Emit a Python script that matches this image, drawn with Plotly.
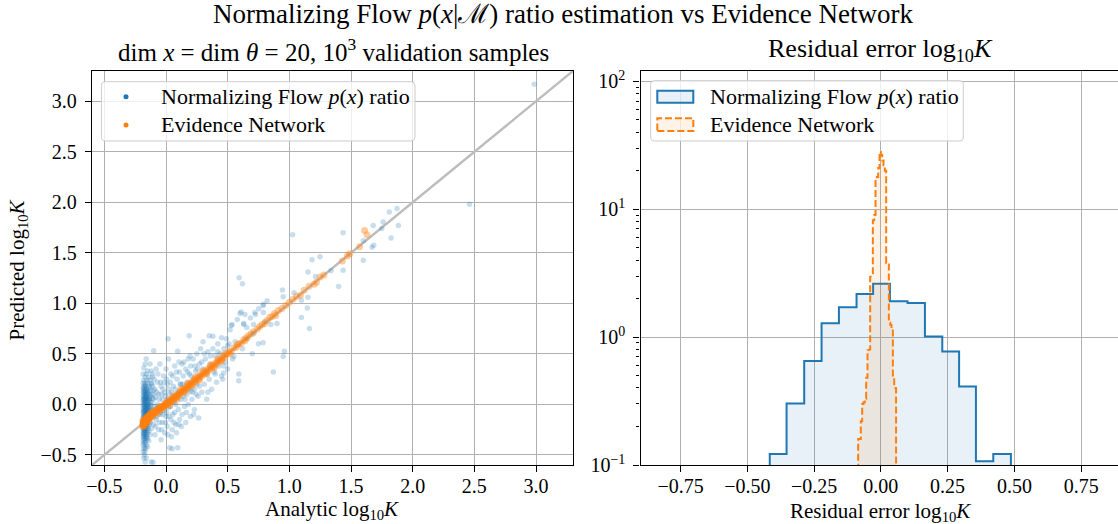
import plotly.graph_objects as go

# ---------------- data ----------------
axis_limits = [-0.6, 3.3]

# Normalizing-flow ratio: analytic vs predicted log10 K
nf_band = [
    (-0.16, 0.45), (-0.17, 0.40), (-0.13, 0.40), (-0.18, 0.36), (-0.15, 0.33), (-0.12, 0.33),
    (-0.185, 0.30), (-0.16, 0.30), (-0.17, 0.27), (-0.14, 0.27), (-0.11, 0.27),
    (-0.18, 0.24), (-0.155, 0.24), (-0.13, 0.24), (-0.185, 0.21), (-0.17, 0.21), (-0.15, 0.21),
    (-0.12, 0.21), (-0.18, 0.18), (-0.165, 0.18), (-0.14, 0.18), (-0.11, 0.18),
    (-0.185, 0.16), (-0.175, 0.16), (-0.16, 0.16), (-0.135, 0.16),
    (-0.18, 0.14), (-0.17, 0.14), (-0.15, 0.14), (-0.125, 0.14), (-0.10, 0.14),
    (-0.185, 0.12), (-0.175, 0.12), (-0.165, 0.12), (-0.145, 0.12),
    (-0.18, 0.10), (-0.17, 0.10), (-0.16, 0.10), (-0.14, 0.10), (-0.12, 0.10),
    (-0.185, 0.08), (-0.175, 0.08), (-0.165, 0.08), (-0.155, 0.08), (-0.13, 0.08),
    (-0.18, 0.06), (-0.17, 0.06), (-0.16, 0.06), (-0.15, 0.06), (-0.135, 0.06), (-0.11, 0.06),
    (-0.185, 0.04), (-0.175, 0.04), (-0.165, 0.04), (-0.155, 0.04), (-0.14, 0.04),
    (-0.18, 0.02), (-0.17, 0.02), (-0.16, 0.02), (-0.15, 0.02), (-0.13, 0.02), (-0.115, 0.02),
    (-0.185, 0.00), (-0.175, 0.00), (-0.165, 0.00), (-0.155, 0.00), (-0.145, 0.00), (-0.125, 0.00),
    (-0.18, -0.02), (-0.17, -0.02), (-0.16, -0.02), (-0.15, -0.02), (-0.14, -0.02), (-0.12, -0.02),
    (-0.185, -0.04), (-0.175, -0.04), (-0.165, -0.04), (-0.155, -0.04), (-0.135, -0.04),
    (-0.18, -0.06), (-0.17, -0.06), (-0.16, -0.06), (-0.15, -0.06), (-0.14, -0.06), (-0.125, -0.06),
    (-0.185, -0.08), (-0.175, -0.08), (-0.165, -0.08), (-0.155, -0.08), (-0.145, -0.08), (-0.11, -0.08),
    (-0.18, -0.10), (-0.17, -0.10), (-0.16, -0.10), (-0.15, -0.10), (-0.135, -0.10),
    (-0.185, -0.12), (-0.175, -0.12), (-0.165, -0.12), (-0.155, -0.12), (-0.14, -0.12), (-0.12, -0.12),
    (-0.18, -0.14), (-0.17, -0.14), (-0.16, -0.14), (-0.15, -0.14), (-0.13, -0.14),
    (-0.185, -0.16), (-0.175, -0.16), (-0.165, -0.16), (-0.155, -0.16), (-0.14, -0.16),
    (-0.18, -0.18), (-0.17, -0.18), (-0.16, -0.18), (-0.15, -0.18), (-0.125, -0.18),
    (-0.185, -0.20), (-0.175, -0.20), (-0.165, -0.20), (-0.155, -0.20), (-0.135, -0.20),
    (-0.18, -0.22), (-0.17, -0.22), (-0.16, -0.22), (-0.145, -0.22),
    (-0.185, -0.24), (-0.175, -0.24), (-0.165, -0.24), (-0.15, -0.24), (-0.12, -0.24),
    (-0.18, -0.26), (-0.17, -0.26), (-0.16, -0.26), (-0.14, -0.26),
    (-0.185, -0.28), (-0.175, -0.28), (-0.165, -0.28), (-0.15, -0.28),
    (-0.18, -0.30), (-0.17, -0.30), (-0.155, -0.30), (-0.13, -0.30),
    (-0.185, -0.32), (-0.175, -0.32), (-0.16, -0.32), (-0.18, -0.34), (-0.17, -0.34), (-0.15, -0.34),
    (-0.185, -0.36), (-0.165, -0.36), (-0.14, -0.36), (-0.18, -0.38), (-0.17, -0.38),
    (-0.185, -0.40), (-0.16, -0.40), (-0.175, -0.42), (-0.15, -0.42), (-0.18, -0.44), (-0.165, -0.44),
    (-0.185, -0.47), (-0.17, -0.47), (-0.175, -0.50), (-0.18, -0.53), (-0.16, -0.53),
    (-0.17, -0.57), (-0.12, -0.57), (-0.104, -0.574),
    (-0.178, 0.05), (-0.168, -0.03), (-0.158, -0.11), (-0.172, -0.19), (-0.162, 0.13),
    (-0.182, -0.07), (-0.152, -0.05), (-0.176, -0.25), (-0.166, 0.07), (-0.156, -0.15),
    (-0.184, -0.13), (-0.174, 0.01), (-0.164, -0.21), (-0.154, 0.11), (-0.144, -0.09),
    (-0.179, -0.29), (-0.169, 0.19), (-0.159, -0.33), (-0.149, -0.01), (-0.139, 0.05),
]

nf_cloud = [
    (-0.115, -0.05), (-0.115, 0.20), (-0.11, 0.30), (-0.105, -0.12), (-0.105, 0.10), (-0.10, 0.53),
    (-0.10, 0.05), (-0.10, -0.20), (-0.095, -0.02), (-0.095, 0.25), (-0.09, 0.15), (-0.09, -0.30),
    (-0.085, 0.07), (-0.085, -0.22), (-0.08, 0.35), (-0.08, -0.05), (-0.08, -0.15), (-0.075, 0.12),
    (-0.075, -0.12), (-0.07, 0.22), (-0.07, 0.00), (-0.065, 0.30), (-0.065, -0.03), (-0.06, -0.25),
    (-0.06, 0.10), (-0.055, 0.05), (-0.055, -0.18), (-0.05, 0.40), (-0.05, -0.10), (-0.045, 0.22),
    (-0.045, -0.08), (-0.04, 0.18), (-0.04, -0.35), (-0.035, 0.10), (-0.035, -0.25), (-0.03, 0.05),
    (-0.03, -0.18), (-0.025, 0.15), (-0.025, -0.10), (-0.02, 0.28), (-0.02, -0.06), (-0.015, 0.00),
    (-0.015, 0.22), (-0.01, 0.12), (-0.01, -0.28), (-0.005, -0.18), (-0.005, 0.08), (0.00, 0.35),
    (0.00, -0.12), (0.00, 0.02), (0.005, 0.25), (0.005, -0.08), (0.01, -0.22), (0.01, 0.20),
    (0.015, 0.05), (0.015, -0.30), (0.017, 0.65), (0.02, 0.45), (0.02, -0.03), (0.025, 0.15),
    (0.025, -0.12), (0.03, -0.43), (0.03, 0.10), (0.035, -0.02), (0.035, 0.22), (0.04, -0.15),
    (0.04, 0.30), (0.045, 0.12), (0.045, -0.32), (0.05, -0.44), (0.05, 0.05), (0.05, -0.25),
    (0.055, 0.28), (0.055, -0.10), (0.06, 0.18), (0.065, 0.02), (0.065, -0.18), (0.07, -0.08),
    (0.07, 0.38), (0.075, 0.15), (0.08, 0.00), (0.08, -0.20), (0.085, -0.28), (0.085, 0.32),
    (0.09, 0.25), (0.095, 0.525), (0.095, -0.43), (0.095, 0.10), (0.10, -0.05), (0.10, 0.12),
    (0.105, -0.20), (0.105, 0.42), (0.11, 0.32), (0.11, -0.15), (0.115, 0.20), (0.12, 0.05),
    (0.12, 0.20), (0.125, -0.22), (0.13, -0.10), (0.13, 0.40), (0.135, 0.20), (0.14, 0.08),
    (0.14, 0.28), (0.145, 0.42), (0.15, -0.02), (0.15, 0.15), (0.155, 0.05), (0.16, 0.35),
    (0.16, -0.18), (0.165, -0.08), (0.17, 0.10), (0.17, 0.22), (0.175, 0.32), (0.18, 0.45),
    (0.18, 0.00), (0.185, 0.15), (0.188, 0.68), (0.19, 0.30), (0.195, 0.48), (0.198, -0.12),
    (0.20, 0.13), (0.20, 0.38), (0.205, 0.28), (0.21, 0.05), (0.215, 0.12), (0.22, 0.25),
    (0.22, 0.45), (0.225, -0.10), (0.23, -0.05), (0.23, 0.15), (0.235, 0.38), (0.24, 0.33),
    (0.245, 0.10), (0.25, 0.20), (0.25, 0.50), (0.255, 0.35), (0.26, 0.08), (0.265, -0.135),
    (0.27, 0.40), (0.27, 0.18), (0.28, 0.28), (0.28, 0.55), (0.29, 0.12), (0.29, 0.42),
    (0.30, 0.62), (0.30, 0.35), (0.31, 0.20), (0.31, 0.50), (0.32, 0.45), (0.33, 0.05),
    (0.33, 0.30), (0.34, 0.52), (0.34, 0.12), (0.35, 0.68), (0.35, 0.25), (0.36, 0.40),
    (0.36, 0.48), (0.37, 0.15), (0.38, 0.55), (0.38, 0.675), (0.39, 0.32), (0.40, 0.48),
    (0.40, 0.30), (0.41, 0.22), (0.42, 0.60), (0.42, 0.52), (0.43, 0.38), (0.44, 0.50),
    (0.45, 0.66), (0.45, 0.28), (0.46, 0.25), (0.468, 0.31), (0.47, 0.55), (0.47, 0.38),
    (0.48, 0.42), (0.49, 0.65), (0.50, 0.35), (0.50, 0.58), (0.51, 0.60), (0.52, 0.74),
    (0.53, 0.78), (0.536, 0.79), (0.54, 0.45), (0.55, 0.475), (0.56, 0.62), (0.578, 0.84),
    (0.59, 0.235), (0.59, 0.30), (0.593, 1.254), (0.60, 0.90), (0.609, 0.915), (0.62, 1.195),
    (0.62, 0.55), (0.63, 0.79), (0.63, 0.80), (0.64, 0.89), (0.655, 0.76), (0.66, 0.65),
    (0.684, 0.855), (0.70, 0.50), (0.71, 0.79), (0.711, 0.70), (0.72, 0.91), (0.725, 0.89),
    (0.75, 0.60), (0.752, 0.947), (0.787, 0.977), (0.787, 0.61), (0.79, 0.99), (0.79, 0.91),
    (0.80, 0.82), (0.82, 1.027), (0.85, 0.79), (0.87, 0.32), (0.90, 0.80), (0.944, 1.133),
    (0.95, 1.066), (0.95, 0.475), (0.96, 0.525), (1.027, 1.68), (1.038, 1.106), (1.098, 1.03),
    (1.098, 0.861), (1.146, 0.954), (1.15, 1.06), (1.152, 1.31), (1.163, 0.75), (1.184, 1.432),
    (1.213, 1.267), (1.249, 1.462), (1.338, 1.324), (1.40, 1.168), (1.436, 1.327), (1.436, 1.70),
    (1.60, 1.62), (1.60, 1.426), (1.67, 1.555), (1.684, 1.574), (1.68, 1.77), (1.75, 1.74),
    (1.76, 1.806), (1.81, 1.905), (1.825, 1.647), (1.873, 1.94), (1.884, 1.77), (2.46, 1.98),
    (2.986, 3.17),
]

# Evidence network: analytic vs predicted log10 K
en_points = [
    (-0.188, -0.205), (-0.186, -0.185), (-0.185, -0.17), (-0.184, -0.195), (-0.182, -0.215),
    (-0.181, -0.175), (-0.18, -0.19), (-0.178, -0.16), (-0.177, -0.20), (-0.175, -0.18),
    (-0.174, -0.165), (-0.172, -0.19), (-0.17, -0.15), (-0.168, -0.175), (-0.166, -0.16),
    (-0.164, -0.185), (-0.162, -0.145), (-0.16, -0.17), (-0.158, -0.155), (-0.155, -0.14),
    (-0.153, -0.165), (-0.15, -0.13), (-0.148, -0.15), (-0.145, -0.125), (-0.142, -0.14),
    (-0.14, -0.115), (-0.137, -0.135), (-0.134, -0.11), (-0.13, -0.125), (-0.127, -0.10),
    (-0.124, -0.115), (-0.12, -0.095), (-0.116, -0.11), (-0.112, -0.085), (-0.108, -0.10),
    (-0.104, -0.08), (-0.10, -0.09), (-0.095, -0.07), (-0.09, -0.085), (-0.085, -0.065),
    (-0.08, -0.075), (-0.075, -0.055), (-0.07, -0.065), (-0.065, -0.045), (-0.06, -0.055),
    (-0.055, -0.04), (-0.05, -0.045), (-0.045, -0.03), (-0.04, -0.035), (-0.035, -0.02),
    (-0.03, -0.03), (-0.025, -0.015), (-0.02, -0.02), (-0.015, -0.005), (-0.01, -0.012),
    (-0.005, 0.005), (0.00, -0.005), (0.005, 0.012), (0.01, 0.00), (0.015, 0.02), (0.02, 0.01),
    (0.025, 0.03), (0.03, 0.018), (0.035, 0.04), (0.04, 0.028), (0.045, 0.05), (0.05, 0.035),
    (0.055, 0.06), (0.06, 0.045), (0.065, 0.068), (0.07, 0.055), (0.075, 0.08), (0.08, 0.065),
    (0.085, 0.09), (0.09, 0.075), (0.095, 0.10), (0.10, 0.085), (0.11, 0.115), (0.115, 0.10),
    (0.12, 0.13), (0.13, 0.12), (0.135, 0.145), (0.14, 0.13), (0.15, 0.155), (0.155, 0.14),
    (0.16, 0.17), (0.17, 0.16), (0.175, 0.185), (0.18, 0.17), (0.19, 0.20), (0.20, 0.19),
    (0.205, 0.215), (0.21, 0.20), (0.22, 0.23), (0.23, 0.22), (0.235, 0.245), (0.24, 0.23),
    (0.25, 0.26), (0.26, 0.25), (0.265, 0.275), (0.27, 0.26), (0.28, 0.29), (0.29, 0.28),
    (0.30, 0.31), (0.31, 0.30), (0.32, 0.33), (0.33, 0.32), (0.34, 0.35), (0.35, 0.34),
    (0.36, 0.37), (0.37, 0.36), (0.38, 0.39), (0.39, 0.38), (0.40, 0.41), (0.41, 0.40),
    (0.42, 0.43), (0.43, 0.425), (0.44, 0.45), (0.45, 0.44), (0.46, 0.47), (0.47, 0.465),
    (0.48, 0.49), (0.50, 0.50), (0.51, 0.52), (0.53, 0.525), (0.55, 0.56), (0.57, 0.565),
    (0.59, 0.60), (0.61, 0.605), (0.63, 0.64), (0.65, 0.66), (0.67, 0.68), (0.69, 0.70),
    (0.71, 0.72), (0.74, 0.745), (0.76, 0.77), (0.78, 0.79), (0.80, 0.80), (0.82, 0.83),
    (0.84, 0.86), (0.86, 0.87), (0.89, 0.88), (0.91, 0.93), (0.94, 0.95), (0.97, 0.98),
    (1.00, 1.01), (1.03, 1.04), (1.06, 1.07), (1.09, 1.08), (1.12, 1.13), (1.16, 1.17),
    (1.20, 1.19), (1.22, 1.21), (1.25, 1.26), (1.28, 1.28), (1.43, 1.42), (1.47, 1.47),
    (1.49, 1.49), (1.57, 1.56), (1.61, 1.72), (1.63, 1.68),
    (-0.19, -0.22), (-0.186, -0.16), (-0.176, -0.215), (-0.17, -0.135), (-0.16, -0.19),
    (-0.15, -0.115), (-0.14, -0.16), (-0.125, -0.085), (-0.11, -0.125), (-0.09, -0.06),
    (-0.07, -0.09), (-0.05, -0.02), (-0.03, -0.05), (0.01, 0.03), (0.03, -0.01), (0.06, 0.08),
    (0.09, 0.05), (0.12, 0.15), (0.15, 0.12), (0.18, 0.21), (0.21, 0.18), (0.24, 0.27),
    (0.27, 0.24), (0.30, 0.33), (0.33, 0.30), (0.36, 0.39), (0.39, 0.36), (0.42, 0.45),
    (0.45, 0.43), (0.48, 0.50), (0.52, 0.50), (0.58, 0.59), (0.64, 0.63), (0.88, 0.90),
]

# Residual histograms (density), bin edges and heights
nf_edges = [-0.416, -0.353, -0.287, -0.222, -0.157, -0.091, -0.029, 0.034, 0.100,
            0.165, 0.230, 0.293, 0.356, 0.421, 0.487]
nf_density = [0.122, 0.303, 0.65, 1.28, 1.71, 2.17, 2.61, 1.91, 1.85, 1.01, 0.77,
              0.41, 0.107, 0.122]

en_edges = [-0.085, -0.080, -0.075, -0.070, -0.065, -0.060, -0.055, -0.050, -0.045,
            -0.040, -0.035, -0.030, -0.025, -0.020, -0.015, -0.010, -0.005, 0.000,
            0.005, 0.010, 0.015, 0.020, 0.025, 0.030, 0.035, 0.040, 0.045, 0.050,
            0.055, 0.057]
en_density = [0.16, 0.16, 0.22, 0.30, 0.31, 0.33, 0.48, 0.79, 0.80, 2.96, 3.0, 8.2,
              9.0, 17.4, 17.8, 21.0, 28.0, 26.5, 24.0, 22.0, 20.0, 3.8, 3.7, 1.3,
              1.25, 1.2, 0.5, 0.4, 0.4]

x_ticks_left = [-0.5, 0.0, 0.5, 1.0, 1.5, 2.0, 2.5, 3.0]
x_ticks_right = [-0.75, -0.50, -0.25, 0.00, 0.25, 0.50, 0.75]
y_ticks_right = [0.1, 1, 10, 100]
y_ticktext_right = ["10<sup>−1</sup>", "10<sup>0</sup>", "10<sup>1</sup>", "10<sup>2</sup>"]
y_minor_right = [0.2, 0.3, 0.4, 0.5, 0.6, 0.7, 0.8, 0.9, 2, 3, 4, 5, 6, 7, 8, 9,
                 20, 30, 40, 50, 60, 70, 80, 90]

# ---------------- styling ----------------
BLUE = "#1f77b4"
ORANGE = "#ff7f0e"
FONT = "Liberation Serif"
W, H = 1118, 524
ML, MR, MT, MB = 92, 0, 71, 59
PW, PH = W - ML - MR, H - MT - MB


def px(x):
    return (x - ML) / PW


def py(y):
    return (H - MB - y) / PH


def step_outline(edges, heights, floor=1e-3):
    xs, ys = [edges[0]], [floor]
    for i, h in enumerate(heights):
        xs += [edges[i], edges[i + 1]]
        ys += [h, h]
    xs.append(edges[-1])
    ys.append(floor)
    return xs, ys


fig = go.Figure()

# diagonal reference line
fig.add_trace(go.Scatter(x=axis_limits, y=axis_limits, mode="lines",
                         line=dict(color="#bdbdbd", width=2.5),
                         xaxis="x", yaxis="y", showlegend=False, hoverinfo="skip"))

nf_all = nf_band + nf_cloud
fig.add_trace(go.Scatter(x=[p[0] for p in nf_all], y=[p[1] for p in nf_all], mode="markers",
                         marker=dict(color=BLUE, size=5.5, opacity=0.24, line=dict(width=0)),
                         xaxis="x", yaxis="y", showlegend=False))
fig.add_trace(go.Scatter(x=[p[0] for p in en_points], y=[p[1] for p in en_points], mode="markers",
                         marker=dict(color=ORANGE, size=7, opacity=0.4, line=dict(width=0)),
                         xaxis="x", yaxis="y", showlegend=False))

bx, by = step_outline(nf_edges, nf_density)
fig.add_trace(go.Scatter(x=bx, y=by, mode="lines", fill="toself",
                         fillcolor="rgba(31,119,180,0.1)",
                         line=dict(color=BLUE, width=2),
                         xaxis="x2", yaxis="y2", showlegend=False, hoverinfo="skip"))
ox, oy = step_outline(en_edges, en_density)
fig.add_trace(go.Scatter(x=ox, y=oy, mode="lines", fill="toself",
                         fillcolor="rgba(255,127,14,0.1)",
                         line=dict(color=ORANGE, width=2, dash="7px,3px"),
                         xaxis="x2", yaxis="y2", showlegend=False, hoverinfo="skip"))

axis_common = dict(showline=True, linecolor="black", linewidth=1.3, ticks="outside",
                   ticklen=6, tickwidth=1.2, tickcolor="black", showgrid=True,
                   gridcolor="#b0b0b0", gridwidth=1.2, zeroline=False,
                   tickfont=dict(family=FONT, size=20, color="black"))

left_dom = [0, px(573)]
right_dom = [px(640.5), 1]

fig.update_layout(
    width=W, height=H, margin=dict(l=ML, r=MR, t=MT, b=MB),
    paper_bgcolor="white", plot_bgcolor="white", showlegend=False,
    xaxis=dict(domain=left_dom, range=axis_limits, tickvals=x_ticks_left, tickformat=".1f",
               mirror=True, anchor="y", ticklabelstandoff=-3, **axis_common),
    yaxis=dict(domain=[0, 1], range=axis_limits, tickvals=x_ticks_left, tickformat=".1f",
               mirror=True, anchor="x", ticklabelstandoff=4, **axis_common),
    xaxis2=dict(domain=right_dom, range=[-0.9, 0.888], tickvals=x_ticks_right, tickformat=".2f",
                mirror=True, anchor="y2", ticklabelstandoff=-3, **axis_common),
    yaxis2=dict(domain=[0, 1], type="log", range=[-1, 2.08], tickvals=y_ticks_right,
                ticktext=y_ticktext_right, mirror=False, anchor="x2", ticklabelstandoff=4,
                minor=dict(ticks="outside", ticklen=3.5, tickwidth=1, tickcolor="black",
                           tickvals=y_minor_right, showgrid=False),
                **axis_common),
)

shapes = []
annots = []


def rrect(x0, y0, x1, y1, r=4):
    pts = [
        ("M", x0 + r, y0), ("L", x1 - r, y0), ("Q", x1, y0, x1, y0 + r),
        ("L", x1, y1 - r), ("Q", x1, y1, x1 - r, y1), ("L", x0 + r, y1),
        ("Q", x0, y1, x0, y1 - r), ("L", x0, y0 + r), ("Q", x0, y0, x0 + r, y0),
    ]
    s = ""
    for p in pts:
        cmd = p[0]
        coords = p[1:]
        parts = []
        for i in range(0, len(coords), 2):
            parts.append(f"{px(coords[i]):.5f},{py(coords[i + 1]):.5f}")
        s += cmd + " " + " ".join(parts) + " "
    return s + "Z"


legend_font = dict(family=FONT, size=22, color="black")
nf_label = "Normalizing Flow <i>p</i>(<i>x</i>) ratio"
en_label = "Evidence Network"

# left legend
shapes.append(dict(type="path", path=rrect(101.4, 81.7, 415, 141), xref="paper", yref="paper",
                   fillcolor="rgba(255,255,255,0.8)", line=dict(color="#cccccc", width=1),
                   layer="above"))
for cy, col in [(96.7, BLUE), (125, ORANGE)]:
    shapes.append(dict(type="circle", xref="paper", yref="paper", x0=px(123.5), x1=px(128.5),
                       y0=py(cy + 2.5), y1=py(cy - 2.5), fillcolor=col, line=dict(width=0),
                       layer="above"))
annots.append(dict(text=nf_label, x=px(158.8), y=py(96.7), xref="paper", yref="paper",
                   xanchor="left", yanchor="middle", showarrow=False, font=legend_font))
annots.append(dict(text=en_label, x=px(158.8), y=py(125), xref="paper", yref="paper",
                   xanchor="left", yanchor="middle", showarrow=False, font=legend_font))

# right legend
shapes.append(dict(type="path", path=rrect(650.7, 80.7, 963.3, 141), xref="paper", yref="paper",
                   fillcolor="rgba(255,255,255,0.8)", line=dict(color="#cccccc", width=1),
                   layer="above"))
shapes.append(dict(type="rect", xref="paper", yref="paper", x0=px(657.3), x1=px(693.3),
                   y0=py(102.7), y1=py(90.7), fillcolor="rgba(31,119,180,0.1)",
                   line=dict(color=BLUE, width=2), layer="above"))
shapes.append(dict(type="rect", xref="paper", yref="paper", x0=px(657.3), x1=px(693.3),
                   y0=py(131), y1=py(118.3), fillcolor="rgba(255,127,14,0.1)",
                   line=dict(color=ORANGE, width=2, dash="7px,3px"), layer="above"))
annots.append(dict(text=nf_label, x=px(708.3), y=py(96.7), xref="paper", yref="paper",
                   xanchor="left", yanchor="middle", showarrow=False, font=legend_font))
annots.append(dict(text=en_label, x=px(708.3), y=py(124.7), xref="paper", yref="paper",
                   xanchor="left", yanchor="middle", showarrow=False, font=legend_font))

# titles and axis labels
annots.append(dict(text="Normalizing Flow <i>p</i>(<i>x</i>|ℳ) ratio estimation vs Evidence Network",
                   x=px(563), y=py(14), xref="paper", yref="paper", xanchor="center",
                   yanchor="middle", showarrow=False, font=dict(family=FONT, size=27, color="black")))
annots.append(dict(text="dim <i>x</i> = dim <i>θ</i> = 20, 10<sup>3</sup> validation samples",
                   x=px(333), y=py(50), xref="paper", yref="paper", xanchor="center",
                   yanchor="middle", showarrow=False, font=dict(family=FONT, size=25, color="black")))
annots.append(dict(text="Residual error log<sub>10</sub><i>K</i>",
                   x=px(880), y=py(50), xref="paper", yref="paper", xanchor="center",
                   yanchor="middle", showarrow=False, font=dict(family=FONT, size=26, color="black")))
annots.append(dict(text="Analytic log<sub>10</sub><i>K</i>",
                   x=px(332), y=py(510), xref="paper", yref="paper", xanchor="center",
                   yanchor="middle", showarrow=False, font=dict(family=FONT, size=21, color="black")))
annots.append(dict(text="Residual error log<sub>10</sub><i>K</i>",
                   x=px(880), y=py(512), xref="paper", yref="paper", xanchor="center",
                   yanchor="middle", showarrow=False, font=dict(family=FONT, size=21, color="black")))
annots.append(dict(text="Predicted log<sub>10</sub><i>K</i>",
                   x=px(17.5), y=py(270), xref="paper", yref="paper", xanchor="center",
                   yanchor="middle", textangle=-90, showarrow=False,
                   font=dict(family=FONT, size=21, color="black")))

fig.update_layout(shapes=shapes, annotations=annots)
fig.write_html("out.html", config={"displayModeBar": False},
               post_script="document.body.style.margin='0';")
